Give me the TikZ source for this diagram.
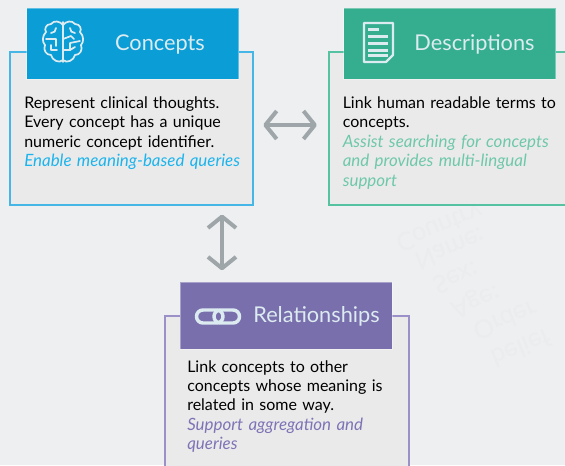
\documentclass[tikz,border=0pt]{standalone}
\usepackage{fontspec}
\setmainfont{Lato}
\usetikzlibrary{arrows.meta,calc}
\definecolor{bgc}{HTML}{EEEFF1}
\definecolor{boxfill}{HTML}{EAEAEB}
\definecolor{bluehead}{HTML}{0B9DD6}
\definecolor{blueline}{HTML}{45B6E6}
\definecolor{blueital}{HTML}{1CB4EC}
\definecolor{greenhead}{HTML}{35AE90}
\definecolor{greenline}{HTML}{55C2A2}
\definecolor{greenital}{HTML}{6EC8AA}
\definecolor{purphead}{HTML}{7A6FAD}
\definecolor{purpline}{HTML}{9C90C8}
\definecolor{purpital}{HTML}{7F73B5}
\definecolor{arrowc}{HTML}{9FA6A9}
\definecolor{titlec}{HTML}{DCEBF0}
\definecolor{markc}{HTML}{EBECEE}
\newcommand{\ital}[2]{\textcolor{#1}{\fontsize{12.7}{14.55}\selectfont\itshape #2}}
\tikzset{
  x=0.75pt,y=-0.75pt,
  outerbox/.style={draw=#1,line width=1.5pt,fill=boxfill,inner sep=0pt},
  header/.style={fill=#1,draw=white,draw opacity=.35,line width=.6pt,inner sep=0pt},
  title/.style={text=titlec,font=\fontsize{16.3}{18}\selectfont,inner sep=0pt},
  body/.style={anchor=north west,inner sep=0pt,align=left,text width=#1,font=\fontsize{12}{14.55}\selectfont,text=black},
  biarrow/.style={draw=arrowc,line width=3pt,{Straight Barb[length=8.5pt,width=21pt,line join=round]}-{Straight Barb[length=8.5pt,width=21pt,line join=round]}},
  iconline/.style={draw=titlec,line width=1.3pt,line cap=round,line join=round},
  wmark/.style={text=markc,font=\fontsize{19}{22}\selectfont,anchor=west,inner sep=0pt,yscale=-1,rotate=-22,transform shape},
}
\begin{document}
\begin{tikzpicture}
\useasboundingbox (0,0) rectangle (565,465);
\clip (0,0) rectangle (565,465);
\fill[bgc] (0,0) rectangle (565,465);
% watermark
\node[wmark] (w1) at (397,243) {Country};
\node[wmark] (w2) at (417,263) {Name:};
\node[wmark] (w3) at (435,287) {Sex:};
\node[wmark] (w4) at (452,310) {Age:};
\node[wmark] (w5) at (475,333) {Order};
\node[wmark] (w6) at (493,360) {belief};
% outer boxes
\node[outerbox=blueline,minimum width=182.25pt,minimum height=114.75pt] (cbox) at (131.5,128.5) {};
\node[outerbox=greenline,minimum width=202.5pt,minimum height=114.75pt] (dbox) at (463.5,128.5) {};
\node[outerbox=purpline,minimum width=182.6pt,minimum height=150pt] (rbox) at (287,416) {};
% headers
\node[header=bluehead,minimum width=159pt,minimum height=53.25pt] (chead) at (132.5,43.5) {};
\node[header=greenhead,minimum width=159pt,minimum height=53.25pt] (dhead) at (449.5,43.5) {};
\node[header=purphead,minimum width=159pt,minimum height=50.25pt] (rhead) at (286,315.5) {};
% titles
\node[title] (ctitle) at (160,44.5) {Concepts};
\node[title] (dtitle) at (474.5,44.5) {Descriptions};
\node[title] (rtitle) at (316.5,316.5) {Relationships};
% body
\node[body=210pt] (ctext) at (24,96.5) {Represent clinical thoughts.\\Every concept has a unique\\numeric concept identifier.\\\ital{blueital}{Enable meaning-based queries}};
\node[body=210pt] (dtext) at (342.5,96.5) {Link human readable terms to\\concepts.\\\ital{greenital}{Assist searching for concepts}\\\ital{greenital}{and provides multi-lingual}\\\ital{greenital}{support}};
\node[body=210pt] (rtext) at (187,360) {Link concepts to other\\concepts whose meaning is\\related in some way.\\\ital{purpital}{Support aggregation and}\\\ital{purpital}{queries}};
% connectors
\coordinate (hl) at (cbox.east |- 0,125);
\coordinate (hr) at (dbox.west |- 0,125);
\coordinate (vt) at (222,205);
\coordinate (vb) at (222,282);
\draw[biarrow,shorten <=7pt,shorten >=8pt] (hl) -- (hr);
\draw[biarrow,shorten <=7.2pt,shorten >=8.8pt] (vt) -- (vb);
% brain icon
\begin{scope}[iconline]
\draw (63,22) -- (63,62);
\draw (63,25) .. controls (60,21) and (54,20) .. (51,24) .. controls (46,24) and (44,29) .. (46,32) .. controls (42,36) and (42,42) .. (45,45) .. controls (43,50) and (46,55) .. (51,55) .. controls (52,60) and (59,64) .. (63,60);
\draw (63,25) .. controls (66,21) and (72,20) .. (75,24) .. controls (80,24) and (82,29) .. (80,32) .. controls (84,36) and (84,42) .. (81,45) .. controls (83,50) and (80,55) .. (75,55) .. controls (74,60) and (67,64) .. (63,60);
\draw (51,33) .. controls (54,33) and (56,31) .. (56,28);
\draw (46,39) -- (56,39) -- (56,46);
\draw (51,45) -- (51,50) -- (57,50);
\draw (75,33) .. controls (72,33) and (70,31) .. (70,28);
\draw (63,39) -- (71,36) -- (74,39);
\draw (80,41) -- (70,43) -- (70,50);
\draw (63,50) -- (70,50) -- (75,47);
\end{scope}
% document icon
\begin{scope}[iconline,line width=1.6pt]
\draw (364,23) -- (393,23) -- (393,55) -- (386,62) -- (364,62) -- cycle;
\end{scope}
\foreach \yy/\xe in {29/379,36/388,43/388,50/388,55.5/388}
  \fill[titlec] (368,\yy-1.5) rectangle (\xe,\yy+1.5);
% chain icon
\begin{scope}[draw=titlec,line width=2.6pt]
\draw[rounded corners=4.8pt] (196.5,310) rectangle (223,323);
\draw[rounded corners=4.8pt] (214,310) rectangle (239.5,323);
\end{scope}
\end{tikzpicture}
\end{document}
